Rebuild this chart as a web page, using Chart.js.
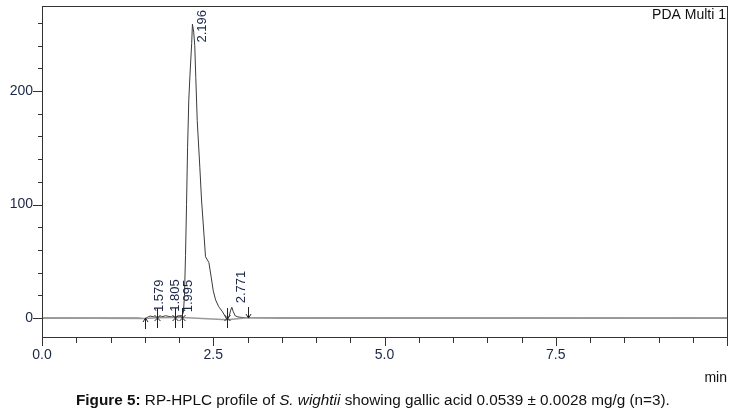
<!DOCTYPE html>
<html>
<head>
<meta charset="utf-8">
<script src="https://cdn.jsdelivr.net/npm/chart.js@4.4.1/dist/chart.umd.min.js"></script>
<style>
  body { margin: 0; background: #fff; }
  #wrap { position: relative; width: 736px; height: 411px; }
  #caption {
    position: absolute; left: 76px; top: 391px; white-space: nowrap;
    font-family: "Liberation Sans", Arial, sans-serif; font-size: 15.3px; color: #111;
  }
</style>
</head>
<body>
<div id="wrap">
  <canvas id="myChart" width="736" height="411"></canvas>
  <div id="caption"><b>Figure 5:</b> RP-HPLC profile of <i>S. wightii</i> showing gallic acid 0.0539 ± 0.0028 mg/g (n=3).</div>
</div>
<script>
// retention time (min) and detector signal (mAU)
var times  = [0, 0.5, 1.0, 1.4, 1.5, 1.55, 1.579, 1.62, 1.68, 1.75, 1.805, 1.87, 1.94, 1.995, 2.04,
              2.065, 2.08, 2.095, 2.11, 2.125, 2.143, 2.16, 2.185, 2.196, 2.215, 2.23, 2.245, 2.266,
              2.304, 2.329, 2.363, 2.387, 2.436, 2.47, 2.50, 2.534, 2.58, 2.63, 2.67, 2.70, 2.73,
              2.755, 2.771, 2.79, 2.82, 2.86, 2.92, 3.0, 3.5, 10];
var signal = [0, 0, 0, 0, -0.5, 1, 1.8, 1.2, 0.5, 1.2, 2, 1.2, 0.8, 1.5, 2,
              5, 20, 55, 100, 150, 192, 214, 242, 259, 252, 240, 212, 174,
              133, 104, 75, 54, 49, 36, 24, 16, 10, 6, 2, -1.5, 1,
              7, 9.5, 6, 2, 1, 0.5, 0.5, 0, 0];
// integration baseline
var baseTimes = [0, 1.5, 1.68, 1.94, 2.05, 2.70, 3.0, 10];
var baseLevel = [0, -0.5, 0.3, 0.4, 0.5, -1.5, 0.3, 0];
// detected peaks and their integration boundaries
var peakTimes   = [1.579, 1.805, 1.995, 2.196, 2.771];
var peakHeights = [1.8, 2, 1.5, 259, 9.5];
var boundaries  = [1.5, 1.68, 1.94, 2.05, 2.70, 3.0];
// axis labels
var xLabels = [0, 2.5, 5, 7.5];
var yLabels = [0, 100, 200];

var labelColor = '#1b2748';
var fontFam = '"Liberation Sans", Arial, sans-serif';

var trace = times.map(function (t, i) { return { x: t, y: signal[i] }; });
var base = baseTimes.map(function (t, i) { return { x: t, y: baseLevel[i] }; });

// no extra room for half label heights at the ends of the axes
function noEdgePadding(s) {
  s.paddingTop = 0; s.paddingBottom = 0; s.paddingLeft = 0; s.paddingRight = 0;
}

var decorations = {
  id: 'decorations',
  afterDraw: function (chart) {
    var c = chart.ctx, a = chart.chartArea;
    var xs = chart.scales.x, ys = chart.scales.y;
    c.save();
    // frame
    c.strokeStyle = '#333';
    c.lineWidth = 1;
    c.strokeRect(Math.round(a.left) + 0.5, Math.round(a.top) + 0.5,
                 Math.round(a.right - a.left), Math.round(a.bottom - a.top));
    // x tick marks every 0.5 min
    c.beginPath();
    for (var k = 0; k <= 20; k++) {
      var v = k * 0.5;
      var px = Math.round(xs.getPixelForValue(v)) + 0.5;
      var len = (k % 5 === 0) ? 9 : 6;
      c.moveTo(px, Math.round(a.bottom));
      c.lineTo(px, Math.round(a.bottom) + len);
    }
    // y tick marks every 20
    for (var m = 0; m <= 260; m += 20) {
      var py = Math.round(ys.getPixelForValue(m)) + 0.5;
      var l2 = (m % 100 === 0) ? 9 : 4;
      c.moveTo(Math.round(a.left), py);
      c.lineTo(Math.round(a.left) - l2, py);
    }
    c.stroke();

    // boundary markers
    c.strokeStyle = '#222';
    boundaries.forEach(function (t, i) {
      var px = Math.round(xs.getPixelForValue(t)) + 0.5;
      var py = ys.getPixelForValue(0);
      c.beginPath();
      if (i === 0) {
        c.moveTo(px, py + 11); c.lineTo(px, py);
        c.moveTo(px - 2.5, py + 4); c.lineTo(px, py); c.lineTo(px + 2.5, py + 4);
      } else if (i === boundaries.length - 1) {
        c.moveTo(px, py - 11); c.lineTo(px, py);
        c.moveTo(px - 2.5, py - 4); c.lineTo(px, py); c.lineTo(px + 2.5, py - 4);
      } else {
        c.moveTo(px, py - 10); c.lineTo(px, py + 10);
        c.moveTo(px - 3, py - 3); c.lineTo(px + 3, py + 3);
        c.moveTo(px + 3, py - 3); c.lineTo(px - 3, py + 3);
      }
      c.stroke();
    });

    // peak labels, rotated
    c.fillStyle = labelColor;
    c.font = '13px ' + fontFam;
    c.textAlign = 'left';
    c.textBaseline = 'middle';
    peakTimes.forEach(function (t, i) {
      var txt = t.toFixed(3);
      var w = c.measureText(txt).width;
      var px = xs.getPixelForValue(t) + 9.5;
      var bottom = ys.getPixelForValue(peakHeights[i]) - 4;
      if (bottom - w < a.top + 4) bottom = a.top + 4 + w;
      c.save();
      c.translate(px, bottom);
      c.rotate(-Math.PI / 2);
      c.fillText(txt, 0, 0);
      c.restore();
    });

    // detector name and axis unit
    c.font = '14px ' + fontFam;
    c.fillStyle = '#111';
    c.textAlign = 'right';
    c.fillText('PDA Multi 1', a.right - 1, a.top + 9);
    c.fillText('min', a.right, 378);
    c.restore();
  }
};

var ctx = document.getElementById('myChart');
var myChart = new Chart(ctx, {
  type: 'line',
  data: {
    datasets: [
      { data: base, borderColor: '#9a9a9a', borderWidth: 1.5, pointRadius: 0, tension: 0 },
      { data: trace, borderColor: '#3a3a3a', borderWidth: 1, pointRadius: 0, tension: 0 }
    ]
  },
  options: {
    responsive: false,
    animation: false,
    layout: { padding: { left: 0, top: 6, right: 9, bottom: 44 } },
    plugins: { legend: { display: false }, tooltip: { enabled: false } },
    scales: {
      x: {
        type: 'linear', min: 0, max: 10,
        grid: { display: false, drawTicks: false },
        border: { display: false },
        afterBuildTicks: function (s) { s.ticks = xLabels.map(function (v) { return { value: v }; }); },
        afterFit: function (s) { s.height = 30; noEdgePadding(s); },
        ticks: {
          autoSkip: false, maxRotation: 0, padding: 10, color: labelColor,
          font: { family: fontFam, size: 14 },
          callback: function (v) { return Number(v).toFixed(1); }
        }
      },
      y: {
        min: -16.7, max: 275,
        grid: { display: false, drawTicks: false },
        border: { display: false },
        afterBuildTicks: function (s) { s.ticks = yLabels.map(function (v) { return { value: v }; }); },
        afterFit: function (s) { s.width = 42; noEdgePadding(s); },
        ticks: {
          padding: 9, color: labelColor,
          font: { family: fontFam, size: 14 },
          callback: function (v) { return String(v); }
        }
      }
    }
  },
  plugins: [decorations]
});
</script>
</body>
</html>
